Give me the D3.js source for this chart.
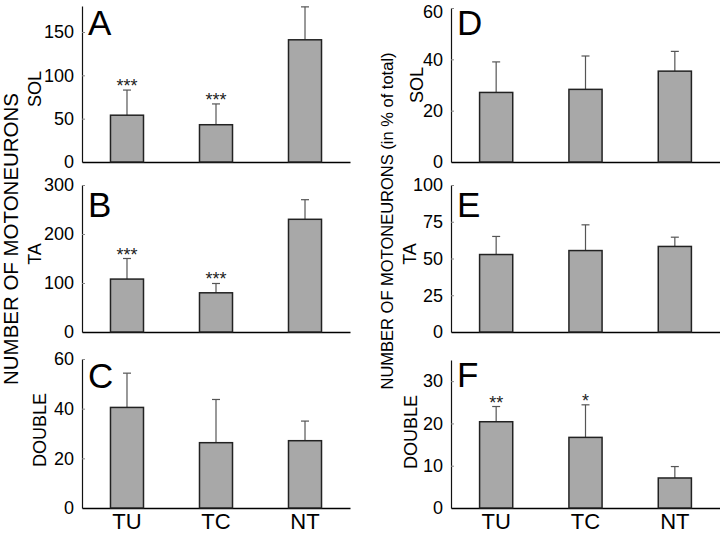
<!DOCTYPE html>
<html>
<head>
<meta charset="utf-8">
<script src="https://cdn.jsdelivr.net/npm/d3@7"></script>
<style>
  html, body { margin: 0; padding: 0; background: #fff; }
  svg { display: block; font-family: "Liberation Sans", Arial, sans-serif; }
</style>
</head>
<body>
<svg id="chart" width="720" height="534"></svg>
<script>
// ---------- data ----------
const categories = ["TU", "TC", "NT"];

const solCount   = [54, 43, 141];
const solCountSd = [29, 24, 38];
const taCount    = [108, 80, 230];
const taCountSd  = [42, 19, 40];
const dblCount   = [40.5, 26.3, 27.1];
const dblCountSd = [13.8, 17.4, 7.9];

const solPct   = [27.1, 28.3, 35.4];
const solPctSd = [11.9, 13.0, 7.7];
const taPct    = [52.7, 55.4, 58.2];
const taPctSd  = [12.3, 17.5, 6.3];
const dblPct   = [20.4, 16.7, 7.1];
const dblPctSd = [3.6, 7.7, 2.7];

const starsSol = ["***", "***", ""];
const starsTa  = ["***", "***", ""];
const starsNone = ["", "", ""];
const starsDblPct = ["**", "*", ""];

const ticksSolCount = [0, 50, 100, 150];
const ticksTaCount  = [0, 100, 200, 300];
const ticksDblCount = [0, 20, 40, 60];
const ticksSolPct   = [0, 20, 40, 60];
const ticksTaPct    = [0, 25, 50, 75, 100];
const ticksDblPct   = [0, 10, 20, 30];

const panelLetters = ["A", "B", "C", "D", "E", "F"];
const rowLabels = ["SOL", "TA", "DOUBLE"];
const titleLeft = "NUMBER OF MOTONEURONS";
const titleRight = "NUMBER OF MOTONEURONS (in % of total)";

// ---------- layout ----------
const svg = d3.select("#chart");

const panels = [
  { letter: panelLetters[0], label: rowLabels[0], vals: solCount, sd: solCountSd, stars: starsSol, ticks: ticksSolCount, max: 180, x0: 82, x1: 350, yb: 162, yt: 6, lb: 35, lx: 41, ly: 89, showCats: false },
  { letter: panelLetters[1], label: rowLabels[1], vals: taCount, sd: taCountSd, stars: starsTa, ticks: ticksTaCount, max: 300, x0: 82, x1: 350, yb: 332, yt: 185, lb: 217, lx: 41, ly: 254, showCats: false },
  { letter: panelLetters[2], label: rowLabels[2], vals: dblCount, sd: dblCountSd, stars: starsNone, ticks: ticksDblCount, max: 60, x0: 82, x1: 350, yb: 508, yt: 359, lb: 388, lx: 46, ly: 430, showCats: true },
  { letter: panelLetters[3], label: rowLabels[0], vals: solPct, sd: solPctSd, stars: starsNone, ticks: ticksSolPct, max: 60, x0: 451, x1: 720, yb: 162, yt: 8, lb: 35, lx: 423, ly: 85, showCats: false },
  { letter: panelLetters[4], label: rowLabels[1], vals: taPct, sd: taPctSd, stars: starsNone, ticks: ticksTaPct, max: 100, x0: 451, x1: 720, yb: 332, yt: 185, lb: 217, lx: 416, ly: 254, showCats: false },
  { letter: panelLetters[5], label: rowLabels[2], vals: dblPct, sd: dblPctSd, stars: starsDblPct, ticks: ticksDblPct, max: 35, x0: 451, x1: 720, yb: 508, yt: 360, lb: 387, lx: 417, ly: 432, showCats: true }
];

panels.forEach(p => {
  const x = d3.scaleBand().domain(categories).range([p.x0, p.x1])
    .paddingInner(0.629).paddingOuter(0.32);
  const y = d3.scaleLinear().domain([0, p.max]).range([p.yb, p.yt]);
  const g = svg.append("g");

  // y axis
  const yAxis = d3.axisLeft(y).tickValues(p.ticks).tickSizeInner(-3).tickSizeOuter(0).tickPadding(8);
  const ya = g.append("g").attr("transform", `translate(${p.x0},0)`).call(yAxis);
  ya.select(".domain").attr("stroke", "#111").attr("stroke-width", 1.2);
  ya.selectAll(".tick line").attr("stroke", "#888").attr("stroke-width", 1);
  ya.selectAll(".tick text").attr("font-size", 18).attr("fill", "#000")
    .attr("font-family", "Liberation Sans, Arial, sans-serif");
  // keep a label that sits at the very top edge inside the picture
  ya.selectAll(".tick").filter(d => y(d) < 11).select("text").attr("dy", "0.5em");

  // x axis
  const xAxis = d3.axisBottom(x).tickSize(0).tickFormat("");
  const xa = g.append("g").attr("transform", `translate(0,${y(0)})`).call(xAxis);
  xa.select(".domain").attr("stroke", "#000").attr("stroke-width", 1.6);

  const data = categories.map((c, i) => ({ c, v: p.vals[i], e: p.sd[i], s: p.stars[i] }));

  // error bars (upward only)
  g.selectAll("line.err").data(data).join("line").attr("class", "err")
    .attr("x1", d => x(d.c) + x.bandwidth() / 2).attr("x2", d => x(d.c) + x.bandwidth() / 2)
    .attr("y1", d => y(d.v)).attr("y2", d => y(d.v + d.e))
    .attr("stroke", "#555").attr("stroke-width", 1.2);
  g.selectAll("line.cap").data(data).join("line").attr("class", "cap")
    .attr("x1", d => x(d.c) + x.bandwidth() / 2 - 4).attr("x2", d => x(d.c) + x.bandwidth() / 2 + 4)
    .attr("y1", d => y(d.v + d.e)).attr("y2", d => y(d.v + d.e))
    .attr("stroke", "#555").attr("stroke-width", 1.2);

  // bars
  g.selectAll("rect.bar").data(data).join("rect").attr("class", "bar")
    .attr("x", d => x(d.c)).attr("width", x.bandwidth())
    .attr("y", d => y(d.v)).attr("height", d => y(0) - y(d.v))
    .attr("fill", "#a8a8a8").attr("stroke", "#222").attr("stroke-width", 1.5);

  // significance stars
  g.selectAll("text.star").data(data.filter(d => d.s)).join("text").attr("class", "star")
    .attr("x", d => x(d.c) + x.bandwidth() / 2).attr("y", d => y(d.v + d.e) + 2)
    .attr("text-anchor", "middle").attr("font-size", 18).attr("fill", "#222")
    .text(d => d.s);

  // panel letter
  g.append("text").attr("x", p.x0 + 6).attr("y", p.lb)
    .attr("font-size", 35).attr("fill", "#000").text(p.letter);

  // row label
  g.append("text").attr("transform", `translate(${p.lx},${p.ly}) rotate(-90)`)
    .attr("text-anchor", "middle").attr("font-size", 18).attr("fill", "#000").text(p.label);

  // category labels
  if (p.showCats) {
    g.selectAll("text.cat").data(categories).join("text").attr("class", "cat")
      .attr("x", d => x(d) + x.bandwidth() / 2).attr("y", 529)
      .attr("text-anchor", "middle").attr("font-size", 22).attr("fill", "#000").text(d => d);
  }
});

// big axis titles
svg.append("text").attr("transform", "translate(18,239) rotate(-90)")
  .attr("text-anchor", "middle").attr("font-size", 20).attr("fill", "#000")
  .attr("textLength", 292).attr("lengthAdjust", "spacingAndGlyphs").text(titleLeft);
svg.append("text").attr("transform", "translate(393,221) rotate(-90)")
  .attr("text-anchor", "middle").attr("font-size", 16.5).attr("fill", "#000")
  .text(titleRight);
</script>
</body>
</html>
